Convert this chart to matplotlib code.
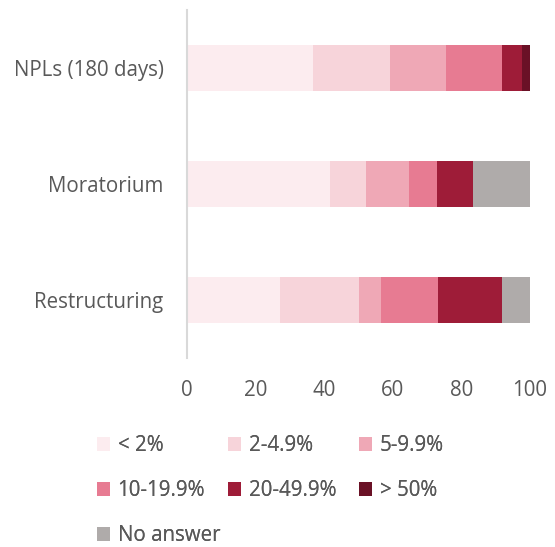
import matplotlib
matplotlib.use("Agg")
import matplotlib.pyplot as plt
import numpy as np

plt.rcParams["font.family"] = ["Open Sans", "DejaVu Sans"]

# ── Data (share of respondents, %) ───────────────────────────────────────────
categories = ["NPLs (180 days)", "Moratorium", "Restructuring"]
series = ["< 2%", "2-4.9%", "5-9.9%", "10-19.9%", "20-49.9%", "> 50%", "No answer"]
values = {
    "< 2%":      [36.7, 41.8, 27.1],
    "2-4.9%":    [22.5, 10.3, 23.0],
    "5-9.9%":    [16.3, 12.5, 6.4],
    "10-19.9%":  [16.3, 8.4, 16.6],
    "20-49.9%":  [5.9, 10.4, 18.7],
    "> 50%":     [2.3, 0.0, 0.0],
    "No answer": [0.0, 16.6, 8.2],
}
colors = ["#fcecef", "#f7d4da", "#efa8b6", "#e77b92", "#9e1c38", "#6a1126", "#afabaa"]
xticks = [0, 20, 40, 60, 80, 100]

TEXT = "#595959"
FS = 14.8

fig = plt.figure(figsize=(5.55, 5.47), dpi=100)
ax = fig.add_axes([187 / 555, 1 - 358 / 547, (530 - 187) / 555, 348 / 547])

y = np.arange(len(categories))
left = np.zeros(len(categories))
handles = []
for name, col in zip(series, colors):
    vals = np.array(values[name])
    b = ax.barh(y, vals, left=left, height=0.405, color=col, label=name)
    handles.append(b)
    left += vals

ax.set_ylim(len(categories) - 0.5, -0.5)
ax.set_xlim(0, 100)
ax.set_yticks(y)
ax.set_yticklabels(categories, fontsize=FS, color=TEXT)
ax.set_xticks(xticks)
ax.set_xticklabels([str(t) for t in xticks], fontsize=FS, color=TEXT)
ax.tick_params(axis="both", length=0)
ax.tick_params(axis="y", pad=17)
ax.tick_params(axis="x", pad=16)
for s in ["top", "right", "bottom"]:
    ax.spines[s].set_visible(False)
ax.spines["left"].set_color("#d9d9d9")
ax.spines["left"].set_linewidth(1.5)

# legend laid out as a fixed grid: one legend per column
columns = [([0, 3, 6], 97), ([1, 4], 228), ([2, 5], 359)]
for idx, xpx in columns:
    fig.add_artist(fig.legend(
        [handles[i] for i in idx], [series[i] for i in idx],
        loc="upper left", bbox_to_anchor=(xpx / 555, 1 - 435 / 547),
        frameon=False, fontsize=FS, handlelength=0.65, handleheight=0.65,
        handletextpad=0.35, labelspacing=1.17, borderpad=0, borderaxespad=0,
        labelcolor=TEXT))

fig.savefig("out.png", dpi=100)
